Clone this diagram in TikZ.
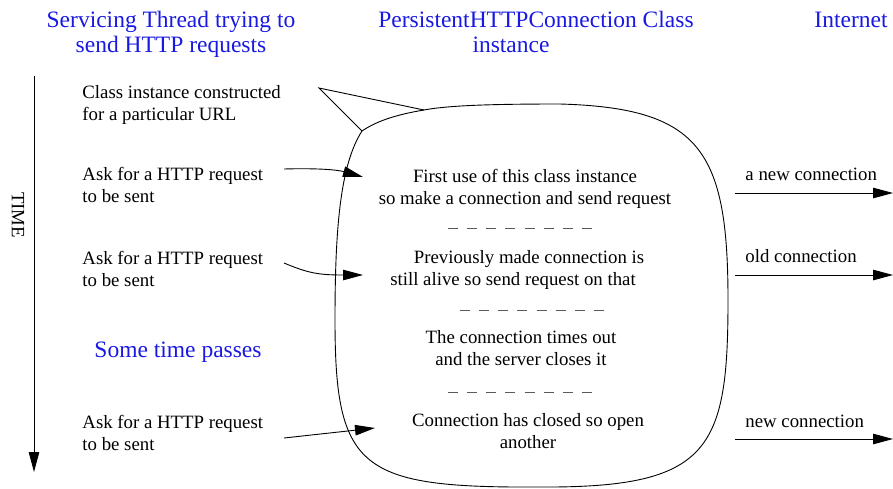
\documentclass[tikz,border=0pt]{standalone}
\usepackage{fontspec}
\setmainfont{Liberation Serif}
\usetikzlibrary{arrows.meta}
\definecolor{hdrblue}{RGB}{25,25,225}
\definecolor{sepgray}{RGB}{90,90,90}
\begin{document}
\begin{tikzpicture}[x=1pt,y=-1pt,line width=0.9pt,
  hdr/.style={text=hdrblue,font=\fontsize{23.5}{25}\selectfont,inner sep=0pt,align=center},
  lbl/.style={font=\fontsize{18.8}{22}\selectfont,inner sep=0pt},
  arr/.style={-{Triangle[length=20pt,width=10.5pt]}},
  sepline/.style={dash pattern=on 10pt off 9.14pt,line width=1pt,draw=sepgray}]
\useasboundingbox (0,0) rectangle (893,488);

% headers (anchor base = last line baseline)
\node[hdr,anchor=base] (h1) at (171,52) {Servicing Thread trying to\\send HTTP requests};
\node[hdr,anchor=base] (h2) at (536,52) {PersistentHTTPConnection Class\\instance\hspace*{50pt}};
\node[hdr,anchor=base east] (h3) at (888,27) {Internet};

% time axis
\coordinate (ttop) at (34,76);
\coordinate (tbot) at (34,472);
\draw[arr] (ttop) -- (tbot);
\node[lbl,rotate=-90] (time) at (18,215) {TIME};

% callout body
\coordinate (tip) at (319,88);
\coordinate (tA) at (424,110);
\coordinate (tB) at (362,131);
\draw (tA) -- (tip) -- (tB);
\draw (tB) .. controls (340,165) and (335,230) .. (335,320)
  .. controls (335,470) and (360,488) .. (540,487)
  .. controls (710,488) and (728,450) .. (728,300)
  .. controls (728,150) and (700,108) .. (560,104)
  .. controls (500,104) and (450,105) .. (tA)
  .. controls (400,114) and (378,120) .. (tB);

% left texts
\node[lbl,anchor=base west,align=left] (c0) at (82,120) {Class instance constructed\\for a particular URL};
\node[lbl,anchor=base west,align=left] (a1) at (82,202) {Ask for a HTTP request\\to be sent};
\node[lbl,anchor=base west,align=left] (a2) at (82,286) {Ask for a HTTP request\\to be sent};
\node[lbl,anchor=base west,align=left] (a3) at (82,450) {Ask for a HTTP request\\to be sent};
\node[hdr,anchor=base west] (stp) at (94,357) {Some time passes};

% middle texts
\node[lbl,anchor=base,align=center] (m1) at (525,204) {First use of this class instance\\so make a connection and send request};
\node[lbl,anchor=base,align=center] (m2) at (521,285) {\hspace*{16pt}Previously made connection is\\still alive so send request on that\hspace*{16pt}};
\node[lbl,anchor=base,align=center] (m3) at (521,365) {The connection times out\\and the server closes it};
\node[lbl,anchor=base,align=center] (m4) at (528,448) {Connection has closed so open\\another};

% separators
\coordinate (s1a) at (448,228); \coordinate (s1b) at (592,228);
\coordinate (s2a) at (460,310); \coordinate (s2b) at (604,310);
\coordinate (s3a) at (448,392); \coordinate (s3b) at (592,392);
\draw[sepline] (s1a) -- (s1b);
\draw[sepline] (s2a) -- (s2b);
\draw[sepline] (s3a) -- (s3b);

% input arrows
\coordinate (i1s) at (284,169); \coordinate (i1e) at (363,177);
\coordinate (i2s) at (284,263); \coordinate (i2e) at (363,275);
\coordinate (i3s) at (284,438); \coordinate (i3e) at (375,428);
\draw[arr] (i1s) .. controls (320,168) and (338,170) .. (i1e);
\draw[arr] (i2s) .. controls (308,273) and (318,275) .. (i2e);
\draw[arr] (i3s) -- (i3e);

% output arrows
\coordinate (o1s) at (735,193); \coordinate (o1e) at (893,193);
\coordinate (o2s) at (735,275); \coordinate (o2e) at (893,275);
\coordinate (o3s) at (735,439); \coordinate (o3e) at (893,439);
\draw[arr] (o1s) -- (o1e);
\draw[arr] (o2s) -- (o2e);
\draw[arr] (o3s) -- (o3e);
\node[lbl,anchor=base west] (l1) at (745,180) {a new connection};
\node[lbl,anchor=base west] (l2) at (745,262) {old connection};
\node[lbl,anchor=base west] (l3) at (745,427) {new connection};
\end{tikzpicture}
\end{document}
